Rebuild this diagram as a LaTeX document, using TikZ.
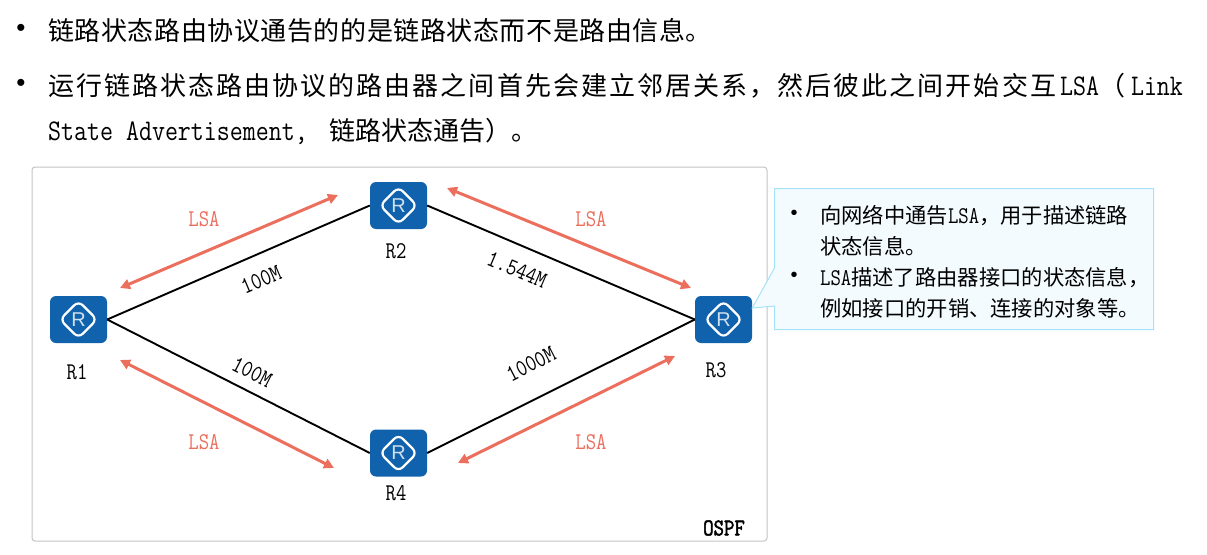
\documentclass[tikz,border=0pt]{standalone}
\usepackage{fontspec}
\setmainfont{Noto Sans CJK SC}
\setmonofont[FakeStretch=0.84]{Latin Modern Mono}
\newfontfamily\ospffont[FakeStretch=0.84,FakeBold=2]{Latin Modern Mono}
\newfontfamily\cjkone[LetterSpace=2.2]{Noto Sans CJK SC}
\newfontfamily\cjktwo[LetterSpace=7.9]{Noto Sans CJK SC}
\newfontfamily\latsans{Liberation Sans}
\newcommand{\fs}[1]{\fontsize{#1}{#1}\selectfont}
\newcommand{\latbig}[1]{{\ttfamily\fs{30}#1}}
\newcommand{\latsmall}[1]{{\ttfamily\fs{24}#1}}
\definecolor{routerblue}{HTML}{1062AC}
\definecolor{lsared}{HTML}{EC6F5E}
\definecolor{panelgray}{HTML}{C4C4C4}
\definecolor{calloutfill}{HTML}{F3FBFF}
\definecolor{calloutline}{HTML}{A5E3F8}
\usetikzlibrary{arrows.meta}
\tikzset{
  router/.style={draw=none,fill=routerblue,rounded corners=6pt,minimum width=57pt,minimum height=47pt,inner sep=0pt,
    path picture={
      \draw[white,line width=2.2pt,miter limit=10] ([xshift=-18.5pt]path picture bounding box.center) -- ([yshift=18.5pt]path picture bounding box.center) -- ([xshift=18.5pt]path picture bounding box.center) -- ([yshift=-18.5pt]path picture bounding box.center) -- cycle;
      \node[text=white!80!routerblue,font=\latsans\fs{20}] at (path picture bounding box.center) {R};
    }},
  link/.style={draw=black,line width=1.9pt},
  lsaarrow/.style={draw=lsared,line width=3pt,{Triangle[length=10pt,width=10pt]}-{Triangle[length=10pt,width=10pt]}},
  mono/.style={font=\ttfamily\fs{24},inner sep=0pt},
  lsatext/.style={mono,text=lsared},
  ratetext/.style={mono,text=black},
  toptext/.style={anchor=base west,inner sep=0pt,font=\fs{26}},
  sidetext/.style={anchor=base west,inner sep=0pt,font=\fs{21.3}},
  bullet/.style={inner sep=0pt}
}
\begin{document}
\begin{tikzpicture}[x=1pt,y=-1pt]
\useasboundingbox (0,0) rectangle (1207,554);
% heading text
\node[bullet,font=\latsans\fs{26}] (b1) at (21,30) {•};
\node[toptext] (t1) at (48,40) {\cjkone 链路状态路由协议通告的的是链路状态而不是路由信息。};
\node[bullet,font=\latsans\fs{26}] (b2) at (21,85) {•};
\node[toptext] (t2) at (48,95) {\cjktwo 运行链路状态路由协议的路由器之间首先会建立邻居关系，然后彼此之间开始交互\hspace{4pt}\latbig{LSA}（\hspace{6pt}\latbig{Link}};
\node[toptext] (t3) at (48,140) {\latbig{State Advertisement,}\hspace{22pt}链路状态通告）。};
% panel
\node[draw=panelgray,line width=1pt,fill=white,rounded corners=3pt,minimum width=735pt,minimum height=374pt,inner sep=0pt] (panel) at (399.5,354) {};
\node[font=\ospffont\fs{24},inner sep=0pt] (ospf) at (724,528) {OSPF};
% routers
\node[router] (r1) at (78.5,319.5) {};
\node[router] (r2) at (398.5,205.5) {};
\node[router] (r3) at (723.5,319.5) {};
\node[router] (r4) at (398.5,453) {};
\node[ratetext] (l1) at (77,372) {R1};
\node[ratetext] (l2) at (396,251) {R2};
\node[ratetext] (l3) at (716,370) {R3};
\node[ratetext] (l4) at (396,493) {R4};
% links
\draw[link] (r1.east) -- (r2.west);
\draw[link] (r2.east) -- (r3.west);
\draw[link] (r1.east) -- (r4.west);
\draw[link] (r4.east) -- (r3.west);
\node[ratetext,rotate=23] (m1) at (261,280) {100M};
\node[ratetext,rotate=-23] (m2) at (517,270) {1.544M};
\node[ratetext,rotate=-27] (m3) at (252,372) {100M};
\node[ratetext,rotate=27] (m4) at (531,364) {1000M};
% LSA arrows
\coordinate (a1) at (120,288); \coordinate (a2) at (338,195);
\coordinate (a3) at (447,188); \coordinate (a4) at (691,288);
\coordinate (a5) at (120,360); \coordinate (a6) at (334,468);
\coordinate (a7) at (675,356); \coordinate (a8) at (458,463);
\draw[lsaarrow] (a1) -- (a2);
\draw[lsaarrow] (a3) -- (a4);
\draw[lsaarrow] (a5) -- (a6);
\draw[lsaarrow] (a7) -- (a8);
\node[lsatext] (s1) at (204,219) {LSA};
\node[lsatext] (s2) at (591,219) {LSA};
\node[lsatext] (s3) at (204,442) {LSA};
\node[lsatext] (s4) at (591,442) {LSA};
% callout
\draw[draw=calloutline,fill=calloutfill,line width=1pt] (774.5,188.5) -- (1153.5,188.5) -- (1153.5,329.5) -- (774.5,329.5) -- (774.5,306) -- (r3.east |- 0,308) -- (774.5,268) -- cycle;
\node[bullet,font=\latsans\fs{20}] (c1) at (794,215) {•};
\node[sidetext] (x1) at (820,223) {向网络中通告\latsmall{LSA}，用于描述链路};
\node[sidetext] (x2) at (820,254) {状态信息。};
\node[bullet,font=\latsans\fs{20}] (c2) at (794,277) {•};
\node[sidetext] (x3) at (820,285) {\latsmall{LSA}描述了路由器接口的状态信息，};
\node[sidetext] (x4) at (820,316) {例如接口的开销、连接的对象等。};
\end{tikzpicture}
\end{document}
